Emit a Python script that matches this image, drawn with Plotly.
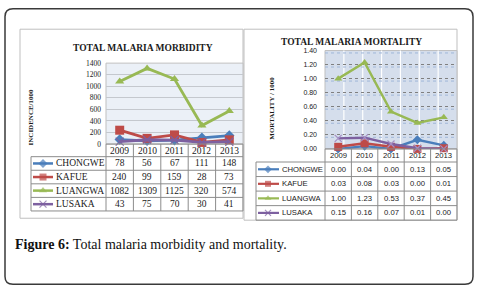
import plotly.graph_objects as go

W, H = 477, 294

# ---------------- data ----------------
years = ["2009", "2010", "2011", "2012", "2013"]
series_names = ["CHONGWE", "KAFUE", "LUANGWA", "LUSAKA"]

morbidity_chongwe = [78, 56, 67, 111, 148]
morbidity_kafue = [240, 99, 159, 28, 73]
morbidity_luangwa = [1082, 1309, 1125, 320, 574]
morbidity_lusaka = [43, 75, 70, 30, 41]

mortality_chongwe = [0.00, 0.04, 0.00, 0.13, 0.05]
mortality_kafue = [0.03, 0.08, 0.03, 0.00, 0.01]
mortality_luangwa = [1.00, 1.23, 0.53, 0.37, 0.45]
mortality_lusaka = [0.15, 0.16, 0.07, 0.01, 0.00]

morbidity_ticks = [0, 200, 400, 600, 800, 1000, 1200, 1400]
mortality_ticks = [0.0, 0.2, 0.4, 0.6, 0.8, 1.0, 1.2, 1.4]

morbidity = [morbidity_chongwe, morbidity_kafue, morbidity_luangwa, morbidity_lusaka]
mortality = [mortality_chongwe, mortality_kafue, mortality_luangwa, mortality_lusaka]

# ---------------- styles ----------------
colors = ["#4A7EBB", "#BE4B48", "#98B954", "#7D60A0"]
symbols = ["diamond", "square", "triangle-up", "x-thin"]
SERIF = "Liberation Serif"
SANS = "Liberation Sans"


def fx(x):
    return x / W


def fy(y):
    return 1 - y / H


# layout geometry (pixels)
L_PLOT = (106, 243, 61, 144.5)   # x0, x1, ytop, ybottom
R_PLOT = (325, 457, 48, 149.5)
L_HDR_BOTTOM, L_ROW_H, L_LEG_X0 = 157.5, 14, 31
R_HDR_BOTTOM, R_ROW_H, R_LEG_X0 = 163, 15, 256

fig = go.Figure()

# ---------------- chart traces ----------------
for i, name in enumerate(series_names):
    lw_marker = dict(color=colors[i], width=1.2) if symbols[i] == "x-thin" else dict(width=0)
    fig.add_trace(go.Scatter(
        x=years, y=morbidity[i], mode="lines+markers", xaxis="x", yaxis="y",
        line=dict(color=colors[i], width=2.8),
        marker=dict(symbol=symbols[i], size=8 if i != 1 else 9,
                    color=colors[i], line=lw_marker),
        cliponaxis=False, showlegend=False, name=name))
for i, name in enumerate(series_names):
    lw_marker = dict(color="#A58FC4", width=1.2) if symbols[i] == "x-thin" else dict(width=0)
    fig.add_trace(go.Scatter(
        x=years, y=mortality[i], mode="lines+markers", xaxis="x2", yaxis="y2",
        line=dict(color=colors[i], width=2.4),
        marker=dict(symbol=symbols[i], size=7 if i != 1 else 8,
                    color=colors[i], line=lw_marker),
        cliponaxis=False, showlegend=False, name=name))

# legend keys inside the data tables (pixel overlay axis)
for i, name in enumerate(series_names):
    lw_marker = dict(color=colors[i], width=1.2) if symbols[i] == "x-thin" else dict(width=0)
    yl = L_HDR_BOTTOM + L_ROW_H * (i + 0.5)
    fig.add_trace(go.Scatter(
        x=[L_LEG_X0 + 2, L_LEG_X0 + 12, L_LEG_X0 + 22], y=[yl, yl, yl],
        mode="lines+markers", xaxis="x3", yaxis="y3",
        line=dict(color=colors[i], width=2.5),
        marker=dict(symbol=symbols[i], size=[0, 7, 0], color=colors[i], line=lw_marker),
        cliponaxis=False, showlegend=False, hoverinfo="skip"))
    yr = R_HDR_BOTTOM + R_ROW_H * (i + 0.5)
    fig.add_trace(go.Scatter(
        x=[R_LEG_X0 + 2, R_LEG_X0 + 12, R_LEG_X0 + 23], y=[yr, yr, yr],
        mode="lines+markers", xaxis="x3", yaxis="y3",
        line=dict(color=colors[i], width=2.2),
        marker=dict(symbol=symbols[i], size=[0, 6, 0], color=colors[i], line=lw_marker),
        cliponaxis=False, showlegend=False, hoverinfo="skip"))

shapes = []
annotations = []

# ---------------- backgrounds ----------------
r = 8
x0, x1, y0, y1 = 5, 473, 5, 289
path = (f"M {x0+r},{y0} L {x1-r},{y0} Q {x1},{y0} {x1},{y0+r} L {x1},{y1-r} "
        f"Q {x1},{y1} {x1-r},{y1} L {x0+r},{y1} Q {x0},{y1} {x0},{y1-r} "
        f"L {x0},{y0+r} Q {x0},{y0} {x0+r},{y0} Z")
shapes.append(dict(type="path", path=path, xref="x3", yref="y3",
                   line=dict(color="#3A3A3A", width=1.5), layer="above"))

shapes.append(dict(type="rect", xref="paper", yref="paper", x0=fx(20), x1=fx(243),
                   y0=fy(221), y1=fy(26), fillcolor="white",
                   line=dict(color="#BFBFBF", width=1), layer="below"))
shapes.append(dict(type="rect", xref="paper", yref="paper", x0=fx(244), x1=fx(457),
                   y0=fy(223), y1=fy(26), fillcolor="white",
                   line=dict(color="#BFBFBF", width=1), layer="below"))
shapes.append(dict(type="rect", xref="paper", yref="paper", x0=fx(L_PLOT[0]), x1=fx(L_PLOT[1]),
                   y0=fy(L_PLOT[3]), y1=fy(L_PLOT[2]), fillcolor="#EBF0F7",
                   line=dict(color="#BFBFBF", width=1), layer="below"))
shapes.append(dict(type="rect", xref="paper", yref="paper", x0=fx(R_PLOT[0]), x1=fx(R_PLOT[1]),
                   y0=fy(R_PLOT[3]), y1=fy(R_PLOT[2]), fillcolor="#D5DEEC",
                   line=dict(color="#BFBFBF", width=1), layer="below"))
for k in range(1, 7):
    xx = R_PLOT[0] + (R_PLOT[1] - R_PLOT[0]) * k / 7
    shapes.append(dict(type="line", xref="paper", yref="paper", x0=fx(xx), x1=fx(xx),
                       y0=fy(R_PLOT[3]), y1=fy(R_PLOT[2]),
                       line=dict(color="white", width=1.2), layer="below"))
# secondary light dotted lines just below each mortality gridline (pattern look)
px_per_unit = (R_PLOT[3] - R_PLOT[2]) / (mortality_ticks[-1] - mortality_ticks[0])
for t in mortality_ticks[1:]:
    yy = R_PLOT[3] - (t - mortality_ticks[0]) * px_per_unit + 2.5
    shapes.append(dict(type="line", xref="paper", yref="paper", x0=fx(R_PLOT[0]), x1=fx(R_PLOT[1]),
                       y0=fy(yy), y1=fy(yy),
                       line=dict(color="#9FB6D8", width=1, dash="dot"), layer="below"))

# ---------------- tables ----------------
GRID = "#8C8C8C"


def table(plot, hdr_bottom, row_h, leg_x0, xref, values, fmt, font, leg_text_x, hdr_y):
    px0, px1, _, pbot = plot
    nrow = len(values)
    bottom = hdr_bottom + row_h * nrow
    ncol = len(years)
    cw = (px1 - px0) / ncol
    for k in range(nrow + 1):
        yy = hdr_bottom + row_h * k
        shapes.append(dict(type="line", xref="paper", yref="paper", x0=fx(leg_x0), x1=fx(px1),
                           y0=fy(yy), y1=fy(yy), line=dict(color=GRID, width=1)))
    shapes.append(dict(type="line", xref="paper", yref="paper", x0=fx(leg_x0), x1=fx(leg_x0),
                       y0=fy(hdr_bottom), y1=fy(bottom), line=dict(color=GRID, width=1)))
    shapes.append(dict(type="line", xref="paper", yref="paper", x0=fx(px0), x1=fx(px1),
                       y0=fy(pbot), y1=fy(pbot), line=dict(color=GRID, width=1)))
    for c in range(ncol + 1):
        xx = px0 + cw * c
        shapes.append(dict(type="line", xref="paper", yref="paper", x0=fx(xx), x1=fx(xx),
                           y0=fy(pbot), y1=fy(bottom), line=dict(color=GRID, width=1)))
    # category axis: annotation x uses category serial numbers
    for c, yr in enumerate(years):
        annotations.append(dict(x=c, xref=xref, y=fy(hdr_y), yref="paper", text=yr,
                                showarrow=False, font=font, xanchor="center", yanchor="middle"))
    for i, name in enumerate(series_names):
        yc = hdr_bottom + row_h * (i + 0.5)
        annotations.append(dict(x=fx(leg_text_x), xref="paper", y=fy(yc), yref="paper",
                                text=name, showarrow=False, font=font,
                                xanchor="left", yanchor="middle"))
        for c, yr in enumerate(years):
            annotations.append(dict(x=c, xref=xref, y=fy(yc), yref="paper",
                                    text=fmt(values[i][c]), showarrow=False, font=font,
                                    xanchor="center", yanchor="middle"))


table(L_PLOT, L_HDR_BOTTOM, L_ROW_H, L_LEG_X0, "x", morbidity, lambda v: f"{v}",
      dict(family=SERIF, size=9.5, color="#1A1A1A"), 54, 151.5)
table(R_PLOT, R_HDR_BOTTOM, R_ROW_H, R_LEG_X0, "x2", mortality, lambda v: f"{v:.2f}",
      dict(family=SANS, size=7.7, color="#1A1A1A"), 280, 156.5)


# ---------------- titles ----------------
def note(x, y, text, font, angle=0, xanchor="center"):
    annotations.append(dict(x=fx(x), y=fy(y), xref="paper", yref="paper", text=text,
                            showarrow=False, textangle=angle, font=font,
                            xanchor=xanchor, yanchor="middle"))


note(143, 45, "<b>TOTAL MALARIA MORBIDITY</b>", dict(family=SERIF, size=9.5, color="#1A1A1A"))
note(351, 39, "<b>TOTAL MALARIA MORTALITY</b>", dict(family=SERIF, size=9.5, color="#1A1A1A"))
note(31, 116, "<b>INCIDENCE/1000</b>", dict(family=SERIF, size=7, color="#1A1A1A"), angle=-90)
note(272, 108, "<b>MORTALITY / 1000</b>", dict(family=SERIF, size=7, color="#1A1A1A"), angle=-90)
note(13, 248, "<b>Figure 6:</b> Total malaria morbidity and mortality.",
     dict(family=SERIF, size=14, color="#111111"), xanchor="left")

fig.update_layout(
    width=W, height=H, autosize=False,
    margin=dict(l=0, r=0, t=0, b=0),
    paper_bgcolor="white", plot_bgcolor="rgba(0,0,0,0)",
    showlegend=False,
    xaxis=dict(domain=[fx(L_PLOT[0]), fx(L_PLOT[1])], type="category", range=[-0.5, 4.5],
               showticklabels=False, showgrid=False, zeroline=False, showline=False,
               anchor="y", fixedrange=True),
    yaxis=dict(domain=[fy(L_PLOT[3]), fy(L_PLOT[2])], range=[0, 1400],
               tickvals=morbidity_ticks, ticktext=[str(t) for t in morbidity_ticks],
               tickfont=dict(family=SERIF, size=7.5, color="#1A1A1A"),
               showgrid=True, gridcolor="#C4C8CE", gridwidth=1, zeroline=False,
               showline=False, ticks="", ticklabelstandoff=4, anchor="x", fixedrange=True),
    xaxis2=dict(domain=[fx(R_PLOT[0]), fx(R_PLOT[1])], type="category", range=[-0.5, 4.5],
                showticklabels=False, showgrid=False, zeroline=False, showline=False,
                anchor="y2", fixedrange=True),
    yaxis2=dict(domain=[fy(R_PLOT[3]), fy(R_PLOT[2])], range=[0, 1.4],
                tickvals=mortality_ticks, ticktext=[f"{t:.2f}" for t in mortality_ticks],
                tickfont=dict(family=SANS, size=7, color="#1A1A1A"),
                showgrid=True, gridcolor="#7F7F7F", gridwidth=1, griddash="dot",
                zeroline=False, showline=False, ticks="", ticklabelstandoff=7,
                anchor="x2", fixedrange=True),
    xaxis3=dict(domain=[0, 1], range=[0, W], visible=False, anchor="y3", fixedrange=True),
    yaxis3=dict(domain=[0, 1], range=[H, 0], visible=False, anchor="x3", fixedrange=True),
    shapes=shapes,
    annotations=annotations,
)

fig.write_html("out.html", config={"displayModeBar": False, "staticPlot": True},
               post_script="document.body.style.margin='0';")
